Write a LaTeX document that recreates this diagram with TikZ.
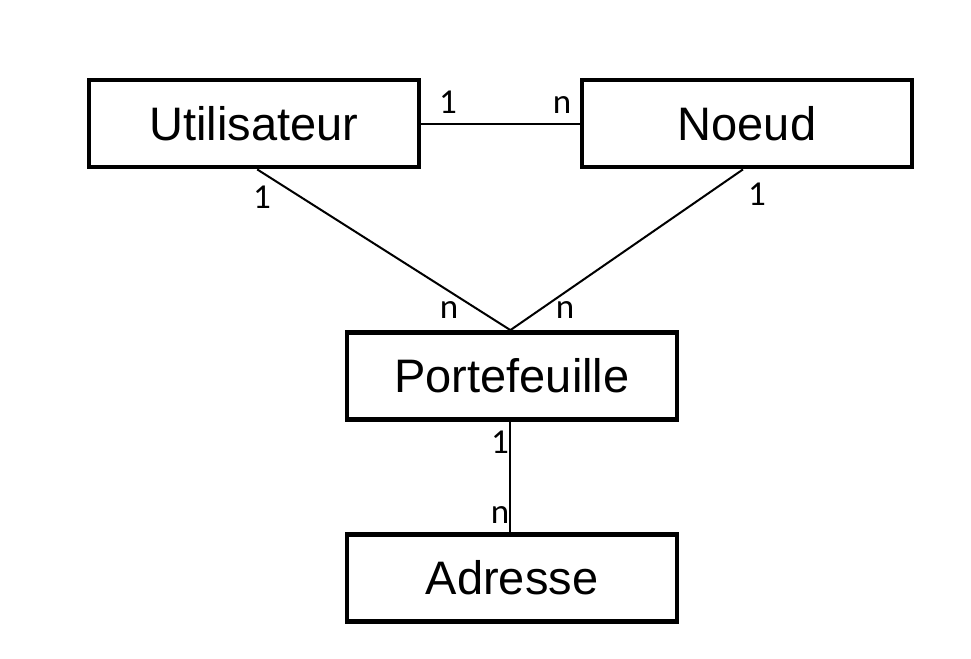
\documentclass[tikz,border=0pt]{standalone}
\usepackage{fontspec}
\setmainfont{Liberation Sans}
\newfontfamily\cardfont{Carlito}
\usepackage{tikz}
\usetikzlibrary{positioning}
\tikzstyle{entity} = [rectangle, minimum width=165pt, minimum height=43.5pt, inner sep=0pt, text centered, draw=black, line width=2.4pt, font=\fontsize{23.5}{27}\selectfont]
\tikzstyle{card} = [anchor=base, inner sep=0pt, font=\cardfont\fontsize{17.5}{20}\selectfont]
\tikzstyle{link} = [line width=1pt]

\begin{document}
\begin{tikzpicture}[x=0.5pt, y=-0.5pt]
\useasboundingbox (0,0) rectangle (971,659);

% Entities

	\node (utilisateur) [entity] at (254,123.5) {Utilisateur};

	\node (noeud) [entity, right of=utilisateur, node distance=246.5pt] {Noeud};

	\node (portefeuille) [entity, below of=utilisateur, node distance=126.25pt, xshift=129pt] {Portefeuille};

	\node (adresse) [entity, below of=portefeuille, node distance=101pt] {Adresse};


% Cardinalities

	\node (cardUtilNoeud) [card] at (448,113) {1};
	\node (cardNoeudUtil) [card] at (562,113) {n};

	\node (cardUtilPort) [card] at (262,208) {1};
	\node (cardNoeudPort) [card] at (757,205) {1};

	\node (cardPortUtil) [card] at (449,318) {n};
	\node (cardPortNoeud) [card] at (565,318) {n};

	\node (cardPortAdr) [card] at (500,453) {1};
	\node (cardAdrPort) [card] at (500,523) {n};


% Links
	\draw [link] (utilisateur.east) -- (noeud.west);

	\draw [link] (utilisateur.-86) -- (portefeuille.92.5);
	\draw [link] (noeud.-95) -- (portefeuille.92.5);

	\draw [link] (portefeuille.268) -- (adresse.92);

\end{tikzpicture}
\end{document}
